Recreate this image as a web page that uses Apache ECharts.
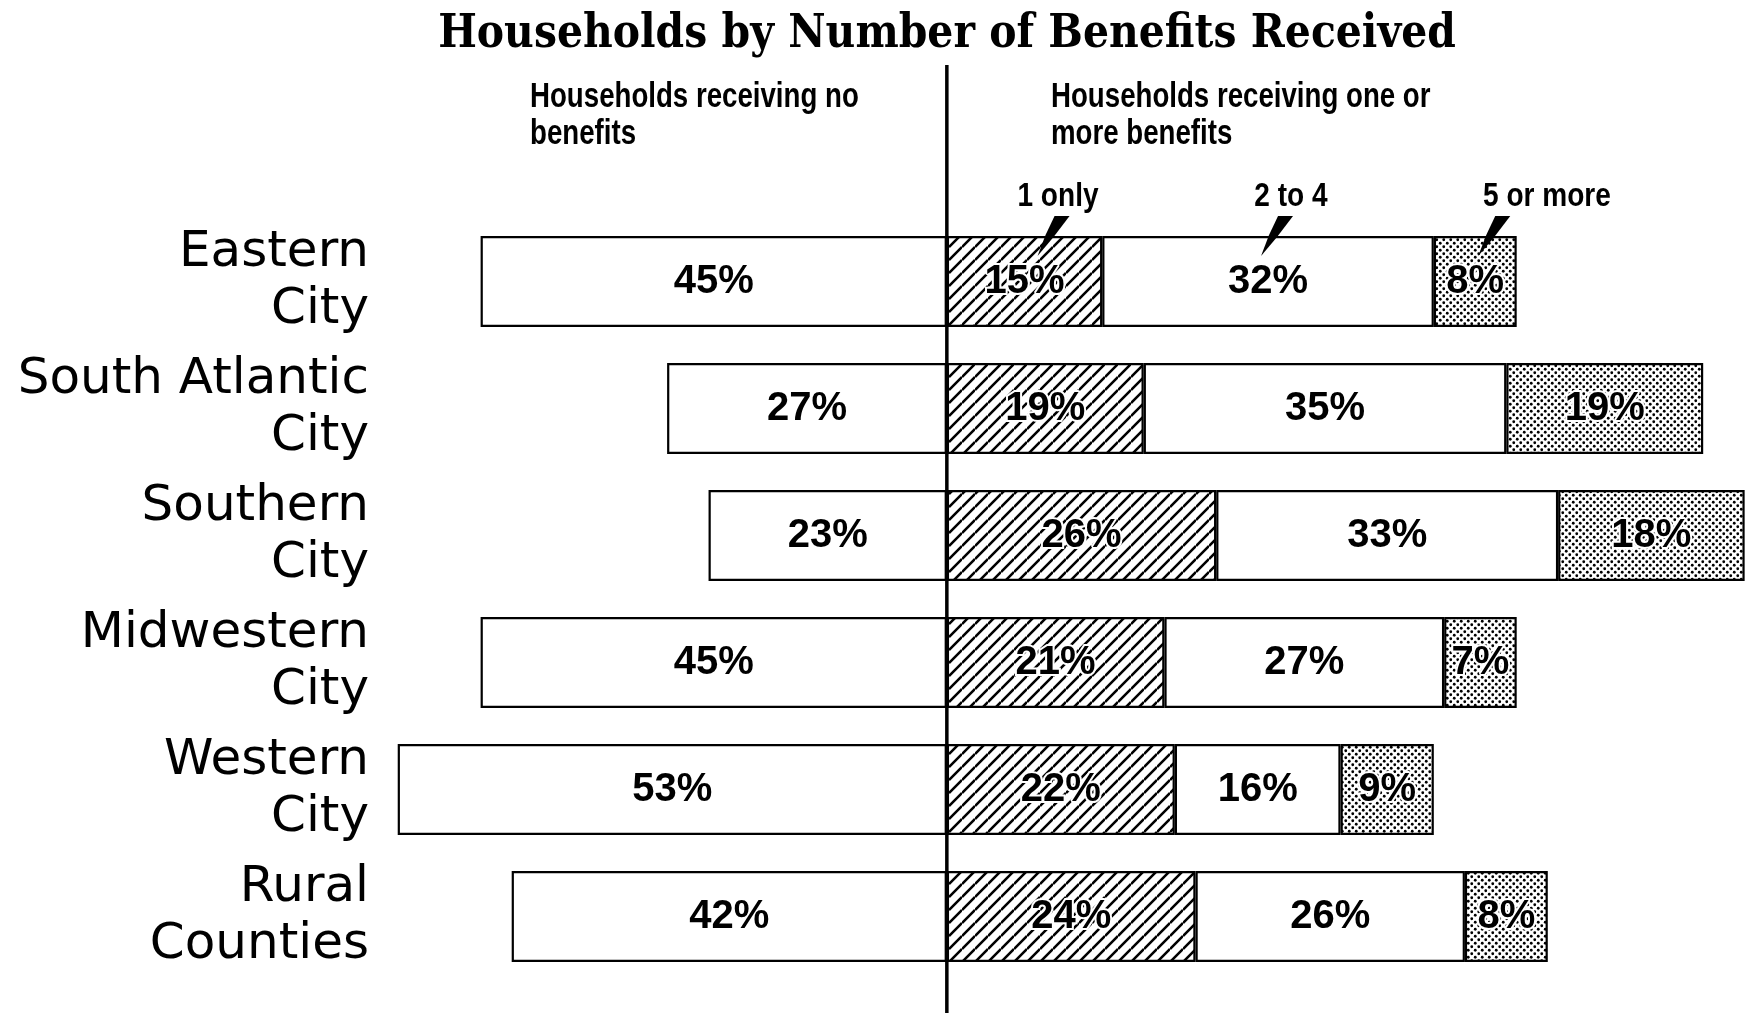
<!DOCTYPE html>
<html><head><meta charset="utf-8">
<script src="https://cdn.jsdelivr.net/npm/echarts@6/dist/echarts.min.js"></script>
<style>html,body{margin:0;padding:0;background:#fff}#c{width:1755px;height:1013px}</style>
</head><body><div id="c"></div>
<script>
const categories = ['Eastern\nCity','South Atlantic\nCity','Southern\nCity','Midwestern\nCity','Western\nCity','Rural\nCounties'];
const noBenefits = [45, 27, 23, 45, 53, 42];
const oneOnly    = [15, 19, 26, 21, 22, 24];
const twoToFour  = [32, 35, 33, 27, 16, 26];
const fiveOrMore = [ 8, 19, 18,  7,  9,  8];
const titleText = 'Households by Number of Benefits Received';
const leftHeader = 'Households receiving no\nbenefits';
const rightHeader = 'Households receiving one or\nmore benefits';
const segmentNames = ['1 only', '2 to 4', '5 or more'];

function hatchPattern(){
  const s = 13, c = document.createElement('canvas'); c.width = s; c.height = s;
  const g = c.getContext('2d');
  g.fillStyle = '#fff'; g.fillRect(0,0,s,s);
  g.strokeStyle = '#000'; g.lineWidth = 2.6;
  g.beginPath();
  [0, s, 2*s].forEach(k => { g.moveTo(0, k); g.lineTo(s, k - s); });
  g.stroke();
  return c;
}
function dotPattern(){
  const s = 7, c = document.createElement('canvas'); c.width = s; c.height = s;
  const g = c.getContext('2d');
  g.fillStyle = '#fff'; g.fillRect(0,0,s,s);
  g.fillStyle = '#000';
  [[1.75,1.75],[5.25,5.25]].forEach(p => { g.beginPath(); g.arc(p[0], p[1], 1.4, 0, Math.PI*2); g.fill(); });
  return c;
}

const chart = echarts.init(document.getElementById('c'), null, {renderer:'canvas'});
const labelStyle = {
  show: true, position: 'inside', color: '#000',
  fontFamily: 'Liberation Sans', fontWeight: 'bold', fontSize: 40,
  formatter: p => Math.abs(p.value) + '%'
};
const patLabel = Object.assign({}, labelStyle, {textBorderColor: '#fff', textBorderWidth: 4});
const border = {borderColor: '#000', borderWidth: 2.2};

const option = {
  animation: false,
  backgroundColor: '#fff',
  grid: {left: 377, top: 218, width: 1379, height: 762, containLabel: false},
  xAxis: {type: 'value', min: -55, max: 78, show: false},
  yAxis: {
    type: 'category', data: categories, inverse: true,
    axisLine: {show: false}, axisTick: {show: false},
    axisLabel: {fontFamily: 'DejaVu Sans', fontSize: 50, color: '#000', lineHeight: 57, margin: 8, align: 'right'}
  },
  series: [
    {name: 'none', type: 'bar', stack: 'total', barWidth: 91, data: noBenefits.map(v => -v),
     itemStyle: Object.assign({color: '#fff'}, border), label: labelStyle},
    {name: segmentNames[0], type: 'bar', stack: 'total', barWidth: 91, data: oneOnly,
     itemStyle: Object.assign({color: {image: hatchPattern(), repeat: 'repeat'}}, border), label: patLabel},
    {name: segmentNames[1], type: 'bar', stack: 'total', barWidth: 91, data: twoToFour,
     itemStyle: Object.assign({color: '#fff'}, border), label: labelStyle},
    {name: segmentNames[2], type: 'bar', stack: 'total', barWidth: 91, data: fiveOrMore,
     itemStyle: Object.assign({color: {image: dotPattern(), repeat: 'repeat'}}, border), label: patLabel}
  ]
};
chart.setOption(option);

const x0 = chart.convertToPixel({gridIndex: 0}, [0, 0])[0];
const barTop = chart.convertToPixel({gridIndex: 0}, [0, 0])[1] - 45.5;
const cum = [oneOnly[0] / 2, oneOnly[0] + twoToFour[0] / 2, oneOnly[0] + twoToFour[0] + fiveOrMore[0] / 2];
const tipOffset = [13, -7, 3];
const tips = cum.map((v, i) => chart.convertToPixel({gridIndex: 0}, [v, 0])[0] + tipOffset[i]);
const subLabelX = [1058, 1291, 1483];
const subAlign = ['center', 'center', 'left'];
const hdrFont = 'bold 35px "Liberation Sans", sans-serif';
const subFont = 'bold 33px "Liberation Sans", sans-serif';

const graphics = [
  {type: 'text', x: 947, y: 12, scaleX: 0.89,
   style: {text: titleText, font: 'bold 46px "DejaVu Serif", serif', fill: '#000', align: 'center'}},
  {type: 'line', shape: {x1: x0, y1: 65, x2: x0, y2: 1013}, style: {stroke: '#000', lineWidth: 3.5}, z: 10},
  {type: 'text', x: 530, y: 79, scaleX: 0.79, style: {text: leftHeader, font: hdrFont, fill: '#000', lineHeight: 37}},
  {type: 'text', x: 1051, y: 79, scaleX: 0.79, style: {text: rightHeader, font: hdrFont, fill: '#000', lineHeight: 37}}
];
segmentNames.forEach((n, i) => {
  graphics.push({type: 'text', x: subLabelX[i], y: 180, scaleX: 0.85,
    style: {text: n, font: subFont, fill: '#000', align: subAlign[i]}});
  const t = tips[i], top = barTop - 20;
  graphics.push({type: 'polygon',
    shape: {points: [[t + 17, top], [t + 32, top], [t + 16, top + 21], [t, top + 40], [t + 8, top + 19]]},
    style: {fill: '#000'}, z: 20});
});
chart.setOption({graphic: graphics});
</script>
</body></html>
